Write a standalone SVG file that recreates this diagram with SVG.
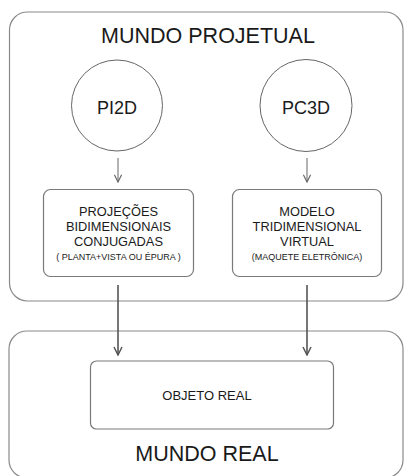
<svg xmlns="http://www.w3.org/2000/svg" width="404" height="476" viewBox="0 0 404 476">
<defs>
<style>
.frame{fill:none;stroke:#8a8a8a;stroke-width:1.2}
.box{fill:#fff;stroke:#7a7a7a;stroke-width:1.2}
.circ{fill:#fff;stroke:#666;stroke-width:1}
.t{font-family:"Liberation Sans",Arial,sans-serif;fill:#1a1a1a;text-anchor:middle}
.big{font-size:21.5px}
.mid{font-size:12.8px}
.nm{font-size:18px}
.sm{font-size:9px}
.c1{stroke:#666;stroke-width:1;fill:none}
.c2{stroke:#555;stroke-width:1.6;fill:none}
</style>
<marker id="ah" viewBox="0 0 10 10" refX="9" refY="5" markerWidth="9" markerHeight="9" markerUnits="userSpaceOnUse" orient="auto">
<path d="M1,1 L9,5 L1,9" fill="none" stroke="#666" stroke-width="1.3"/>
</marker>
<marker id="ah2" viewBox="0 0 10 10" refX="9" refY="5" markerWidth="10" markerHeight="10" markerUnits="userSpaceOnUse" orient="auto">
<path d="M1,1 L9,5 L1,9" fill="none" stroke="#555" stroke-width="1.5"/>
</marker>
</defs>
<rect width="404" height="476" fill="#fff"/>
<g id="mundo-projetual">
<rect class="frame" x="9.5" y="12" width="393.5" height="289" rx="18"/>
<text class="t big" x="208" y="43">MUNDO PROJETUAL</text>
</g>
<g id="mundo-real">
<rect class="frame" x="9" y="331" width="394" height="147" rx="18"/>
<text class="t big" x="207" y="461">MUNDO REAL</text>
</g>
<g id="pi2d">
<circle class="circ" cx="117" cy="105.5" r="45.5"/>
<text class="t nm" x="117" y="114">PI2D</text>
</g>
<g id="pc3d">
<circle class="circ" cx="306" cy="105.5" r="46"/>
<text class="t nm" x="306" y="114">PC3D</text>
</g>
<g id="projecoes">
<rect class="box" x="43.5" y="189.5" width="150" height="87" rx="7"/>
<text class="t mid" x="118.5" y="215.5">PROJEÇÕES</text>
<text class="t mid" x="118.5" y="230.5">BIDIMENSIONAIS</text>
<text class="t mid" x="118.5" y="245.5">CONJUGADAS</text>
<text class="t sm" x="118.5" y="260">( PLANTA+VISTA OU ÉPURA )</text>
</g>
<g id="modelo">
<rect class="box" x="232.5" y="189.5" width="149" height="87" rx="7"/>
<text class="t mid" x="307" y="215.5">MODELO</text>
<text class="t mid" x="307" y="230.5">TRIDIMENSIONAL</text>
<text class="t mid" x="307" y="245.5">VIRTUAL</text>
<text class="t sm" x="307" y="260">(MAQUETE ELETRÔNICA)</text>
</g>
<g id="objeto-real">
<rect class="box" x="90.5" y="361" width="243" height="68" rx="6"/>
<text class="t" style="font-size:13px" x="207" y="400">OBJETO REAL</text>
</g>
<g id="connectors">
<line class="c1" x1="118" y1="158" x2="118" y2="182" marker-end="url(#ah)"/>
<line class="c1" x1="307" y1="158" x2="307" y2="182" marker-end="url(#ah)"/>
<line class="c2" x1="118" y1="285" x2="118" y2="355" marker-end="url(#ah2)"/>
<line class="c2" x1="307" y1="285" x2="307" y2="355" marker-end="url(#ah2)"/>
</g>
</svg>
